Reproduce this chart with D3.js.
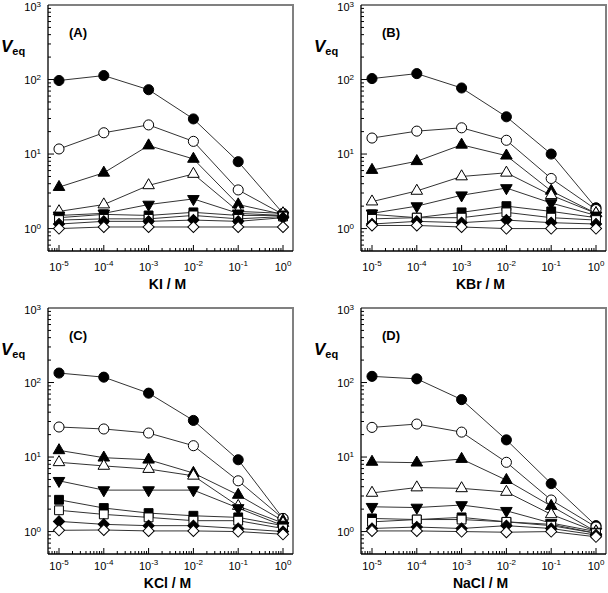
<!DOCTYPE html>
<html lang="en">
<head>
<meta charset="UTF-8">
<title>Veq vs salt concentration</title>
<script src="https://d3js.org/d3.v7.min.js"></script>
<style>
  body { margin: 0; background: #fff; }
  svg text { font-family: "Liberation Sans", Arial, sans-serif; }
</style>
</head>
<body>
<svg width="608" height="593"></svg>
<script>
// salt concentrations (M)
const conc = [1e-5, 1e-4, 1e-3, 1e-2, 1e-1, 1];
const xTicks = [1e-5, 1e-4, 1e-3, 1e-2, 1e-1, 1];
const xTickExp = ["-5", "-4", "-3", "-2", "-1", "0"];
const yTicks = [1, 10, 100, 1000];
const yTickExp = ["0", "1", "2", "3"];

// marker per series, top to bottom
const seriesSymbols = ["circle", "circle", "triUp", "triUp", "triDown", "square", "square", "diamond", "diamond"];
const seriesFilled  = [true, false, true, false, true, true, false, true, false];

// Veq values, one row per series
const veqKI = [
  [97, 113, 73, 29.6, 7.9, 1.6],
  [11.7, 19.3, 24.6, 14.8, 3.3, 1.55],
  [3.6, 5.6, 13, 8.6, 2.1, 1.55],
  [1.7, 2.1, 3.8, 5.4, 1.7, 1.6],
  [1.5, 1.6, 2.1, 2.5, 1.6, 1.5],
  [1.4, 1.55, 1.5, 1.65, 1.5, 1.5],
  [1.3, 1.35, 1.35, 1.5, 1.35, 1.45],
  [1.15, 1.25, 1.25, 1.3, 1.25, 1.4],
  [1.0, 1.05, 1.05, 1.05, 1.05, 1.05]
];
const veqKBr = [
  [103, 120, 77, 31.6, 10, 1.9],
  [16.4, 20.3, 22.5, 15.3, 4.7, 1.8],
  [6.1, 8, 13.3, 9.5, 3.2, 1.6],
  [2.3, 3.2, 5.0, 5.6, 2.8, 1.6],
  [1.6, 2.0, 2.8, 3.5, 2.2, 1.5],
  [1.55, 1.4, 1.65, 2.0, 1.7, 1.4],
  [1.35, 1.4, 1.4, 1.65, 1.4, 1.3],
  [1.15, 1.25, 1.2, 1.3, 1.2, 1.15],
  [1.1, 1.1, 1.05, 1.0, 1.0, 1.0]
];
const veqKCl = [
  [134, 118, 72, 31, 9.2, 1.5],
  [25.3, 23.8, 21, 14.2, 4.8, 1.5],
  [12.3, 9.8, 9.2, 6.1, 3.1, 1.4],
  [8.5, 7.6, 6.9, 5.6, 2.2, 1.3],
  [4.8, 3.6, 3.6, 3.6, 2.07, 1.2],
  [2.67, 2.07, 1.77, 1.63, 1.55, 1.2],
  [1.93, 1.7, 1.55, 1.4, 1.4, 1.1],
  [1.37, 1.25, 1.2, 1.2, 1.1, 1.0],
  [1.04, 1.05, 1.02, 1.02, 1.0, 0.92]
];
const veqNaCl = [
  [121, 112, 59, 17, 4.4, 1.2],
  [25, 27.7, 21.6, 8.5, 2.65, 1.15],
  [8.6, 8.4, 9.4, 4.9, 2.2, 1.0],
  [3.3, 3.9, 3.8, 3.4, 1.7, 1.0],
  [2.15, 2.1, 2.27, 1.9, 1.3, 1.0],
  [1.5, 1.45, 1.55, 1.35, 1.25, 0.95],
  [1.35, 1.45, 1.45, 1.35, 1.2, 0.95],
  [1.1, 1.15, 1.1, 1.2, 1.1, 0.9],
  [1.02, 1.02, 1.0, 0.98, 1.0, 0.85]
];

const panels = [
  { tag: "(A)", salt: "KI", data: veqKI, left: 48, top: 5 },
  { tag: "(B)", salt: "KBr", data: veqKBr, left: 361, top: 5 },
  { tag: "(C)", salt: "KCl", data: veqKCl, left: 48, top: 308 },
  { tag: "(D)", salt: "NaCl", data: veqNaCl, left: 361, top: 308 }
];

const W = 245, H = 246;
const svg = d3.select("svg");

// 10^-5 sits 11px in from the left axis, 10^0 at 235px
const x = d3.scaleLog().domain([1e-5, 1]).range([11, 235]);
x.domain([x.invert(0), x.invert(W)]).range([0, W]);
const y = d3.scaleLog().domain([0.5, 1000]).range([H, 0]);

const symbolPath = {
  circle: d3.symbol(d3.symbolCircle, 80)(),
  triUp: d3.symbol(d3.symbolTriangle, 58)(),
  triDown: d3.symbol(d3.symbolTriangle, 58)(),
  square: d3.symbol(d3.symbolSquare, 78)(),
  diamond: d3.symbol(d3.symbolSquare, 62)()
};
const symbolRot = { circle: 0, triUp: 0, triDown: 180, square: 0, diamond: 45 };

const line = d3.line()
  .x((d, i) => x(conc[i]))
  .y(d => y(d));

panels.forEach(p => {
  const g = svg.append("g").attr("transform", "translate(" + p.left + "," + p.top + ")");
  const bottomRow = p.top > 300;

  // grey frame on top and right
  g.append("path")
    .attr("d", "M0,0H" + W + "V" + H)
    .attr("fill", "none")
    .attr("stroke", "#808080")
    .attr("stroke-width", 2);

  // minor + major ticks, pointing inward
  const xMinor = x.ticks().filter(t => t > x.domain()[0] && t < x.domain()[1]);
  g.selectAll(".xt").data(xMinor).enter().append("line")
    .attr("x1", d => x(d)).attr("x2", d => x(d))
    .attr("y1", H).attr("y2", d => xTicks.some(t => Math.abs(t - d) / t < 1e-6) ? H - 6 : H - 3)
    .attr("stroke", "#000").attr("stroke-width", 1);

  const yMinor = y.ticks().filter(t => t > y.domain()[0] && t < y.domain()[1]);
  g.selectAll(".yt").data(yMinor).enter().append("line")
    .attr("y1", d => y(d)).attr("y2", d => y(d))
    .attr("x1", 0).attr("x2", d => yTicks.includes(d) ? 6 : 3)
    .attr("stroke", "#000").attr("stroke-width", 1);

  g.append("line").attr("x1", 0).attr("x2", 0).attr("y1", 0).attr("y2", H)
    .attr("stroke", "#000").attr("stroke-width", 1.3);
  g.append("line").attr("x1", 0).attr("x2", W).attr("y1", H).attr("y2", H)
    .attr("stroke", "#000").attr("stroke-width", 1.3);

  // tick labels
  xTicks.forEach((t, i) => {
    const lab = g.append("text")
      .attr("x", x(t)).attr("y", H + (bottomRow ? 16 : 20))
      .attr("text-anchor", "middle")
      .attr("font-size", 11);
    lab.append("tspan").text("10");
    lab.append("tspan").attr("dy", -5).attr("font-size", 8).text(xTickExp[i]);
  });
  yTicks.forEach((t, i) => {
    const lab = g.append("text")
      .attr("x", -7).attr("y", Math.max(y(t) + 4, 6))
      .attr("text-anchor", "end")
      .attr("font-size", 11);
    lab.append("tspan").text("10");
    lab.append("tspan").attr("dy", -4).attr("font-size", 8).text(yTickExp[i]);
  });

  // axis titles
  const vt = g.append("text").attr("x", -47).attr("y", 47).attr("font-weight", "bold");
  vt.append("tspan").attr("font-size", 17).attr("font-style", "italic").text("V");
  vt.append("tspan").attr("font-size", 11).attr("dy", 3).text("eq");

  g.append("text")
    .attr("x", 21).attr("y", 32)
    .attr("font-size", 13).attr("font-weight", "bold")
    .text(p.tag);

  // keep the bottom-row title inside the 593px page
  g.append("text")
    .attr("x", W / 2 - 3).attr("y", Math.min(H + 38, 588 - p.top))
    .attr("text-anchor", "middle")
    .attr("font-size", 14).attr("font-weight", "bold")
    .text(p.salt + " / M");

  // series: line then markers
  p.data.forEach((vals, s) => {
    g.append("path")
      .datum(vals)
      .attr("d", line)
      .attr("fill", "none")
      .attr("stroke", "#333")
      .attr("stroke-width", 1);
  });
  p.data.forEach((vals, s) => {
    const sym = seriesSymbols[s];
    g.selectAll(".m" + s).data(vals).enter().append("path")
      .attr("d", symbolPath[sym])
      .attr("transform", (d, i) => "translate(" + x(conc[i]) + "," + y(d) + ") rotate(" + symbolRot[sym] + ")")
      .attr("fill", seriesFilled[s] ? "#000" : "#fff")
      .attr("stroke", "#000")
      .attr("stroke-width", 1);
  });
});
</script>
</body>
</html>
